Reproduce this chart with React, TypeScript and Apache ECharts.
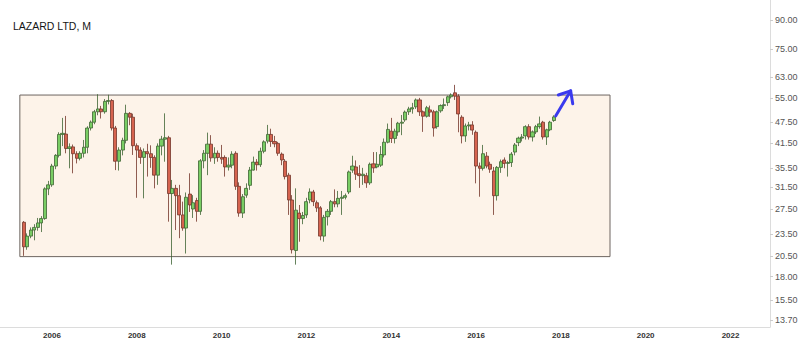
import React, { useEffect, useRef } from "react";
import * as echarts from "echarts";

// [open, close, low, high] per month; 2005 starts in May
const y2005 = [
  [25.3, 21.7, 20.5, 25.5], [21.7, 23.2, 21.3, 23.6], [23.2, 24.1, 22.9, 24.5], [24.1, 24.5, 22.6, 25.0],
  [24.5, 25.2, 24.0, 26.0], [25.2, 25.9, 23.8, 26.3], [25.9, 31.2, 25.7, 31.5], [31.2, 32.0, 30.0, 32.8],
];
const y2006 = [
  [32.0, 36.0, 31.6, 36.5], [36.0, 38.5, 35.3, 38.8], [38.5, 43.9, 38.0, 44.5], [43.9, 44.2, 40.8, 48.7],
  [44.0, 40.2, 39.0, 49.3], [40.2, 40.6, 35.5, 41.5], [40.6, 38.9, 34.4, 41.2], [38.9, 37.8, 36.6, 39.5],
  [37.8, 39.0, 37.3, 39.5], [39.0, 40.5, 38.0, 42.4], [40.5, 45.7, 39.0, 46.2], [45.7, 47.4, 45.0, 47.9],
];
const y2007 = [
  [47.4, 50.6, 46.8, 51.2], [50.6, 51.5, 49.5, 56.5], [51.5, 50.6, 48.5, 52.5], [50.6, 54.0, 50.0, 54.8],
  [54.0, 54.3, 53.0, 56.3], [54.3, 45.7, 45.0, 54.8], [45.7, 37.1, 35.1, 46.3], [37.1, 39.8, 35.0, 40.5],
  [39.8, 42.3, 38.5, 43.0], [42.3, 50.1, 41.5, 52.9], [50.1, 48.9, 46.5, 50.5], [48.9, 40.9, 38.6, 50.0],
];
const y2008 = [
  [40.9, 39.8, 29.5, 41.5], [39.8, 38.0, 36.5, 40.5], [38.0, 39.4, 29.4, 40.2], [39.4, 38.9, 33.7, 41.4],
  [38.9, 38.0, 35.6, 41.0], [38.0, 34.0, 31.3, 38.5], [34.0, 40.8, 32.0, 41.5], [40.8, 42.6, 38.5, 43.5],
  [42.6, 43.0, 37.0, 50.1], [43.0, 30.3, 25.4, 43.5], [30.3, 31.3, 19.4, 33.0], [31.3, 29.9, 24.1, 32.0],
];
const y2009 = [
  [29.9, 26.5, 22.9, 32.0], [26.5, 24.4, 24.0, 28.8], [24.4, 29.6, 20.8, 30.5], [30.2, 28.2, 27.0, 34.4],
  [27.5, 28.6, 26.0, 30.0], [29.0, 27.1, 25.4, 29.5], [27.1, 37.2, 26.5, 37.6], [37.2, 39.0, 35.5, 39.8],
  [39.0, 41.3, 34.0, 44.4], [41.3, 37.9, 37.0, 43.7], [37.9, 39.0, 36.5, 40.5], [39.0, 38.0, 37.0, 39.7],
];
const y2010 = [
  [38.0, 37.6, 36.5, 41.1], [38.0, 35.8, 33.7, 38.5], [35.8, 36.2, 35.0, 38.0], [36.2, 38.8, 35.5, 39.5],
  [39.0, 31.7, 31.0, 39.5], [31.7, 26.8, 26.2, 32.5], [26.8, 29.7, 26.0, 30.2], [30.0, 31.3, 29.5, 32.3],
  [31.9, 35.1, 31.0, 35.8], [35.1, 36.9, 35.0, 38.2], [36.9, 36.3, 35.0, 37.6], [36.3, 39.5, 35.8, 40.4],
];
const y2011 = [
  [39.5, 41.9, 39.0, 42.3], [42.1, 43.9, 41.5, 46.6], [43.9, 42.0, 40.6, 45.5], [42.0, 41.4, 40.5, 43.5],
  [41.5, 39.0, 38.4, 41.9], [38.8, 37.4, 36.2, 39.2], [37.1, 33.7, 33.1, 37.6], [34.0, 29.1, 26.5, 34.5],
  [29.1, 21.3, 20.8, 30.0], [21.2, 27.3, 19.4, 31.3], [26.8, 25.9, 22.4, 28.2], [25.9, 26.4, 25.0, 27.0],
];
const y2012 = [
  [26.5, 28.8, 26.0, 29.5], [29.1, 30.6, 28.5, 31.3], [30.6, 28.8, 28.0, 31.0], [28.6, 27.7, 27.0, 29.0],
  [27.7, 23.2, 22.6, 28.0], [23.2, 26.1, 22.4, 26.5], [26.2, 27.1, 24.8, 27.5], [27.1, 28.8, 26.5, 29.1],
  [28.8, 28.4, 27.8, 31.1], [28.4, 29.4, 27.8, 30.8], [29.4, 29.6, 26.5, 30.8], [29.6, 29.9, 29.2, 30.3],
];
const y2013 = [
  [30.6, 34.7, 30.2, 35.0], [35.1, 36.0, 34.5, 38.4], [35.8, 34.2, 33.0, 37.3], [34.3, 33.9, 31.4, 36.2],
  [33.9, 34.2, 32.0, 35.6], [33.9, 32.4, 31.4, 34.5], [32.4, 36.4, 32.0, 36.8], [36.5, 35.6, 34.5, 39.3],
  [35.8, 36.4, 35.5, 39.3], [36.2, 38.7, 35.8, 40.8], [38.6, 41.8, 38.0, 42.8], [41.8, 45.3, 41.5, 47.0],
];
const y2014 = [
  [44.8, 42.8, 41.6, 48.7], [42.8, 44.8, 41.5, 45.5], [44.6, 47.1, 43.5, 47.5], [47.1, 47.4, 43.7, 49.6],
  [48.1, 50.5, 47.5, 51.0], [50.6, 51.5, 49.6, 52.2], [51.5, 51.9, 50.0, 53.5], [52.2, 54.5, 51.5, 55.0],
  [54.5, 50.6, 49.3, 55.2], [50.6, 49.2, 44.6, 51.0], [49.2, 51.9, 48.8, 52.5], [51.2, 50.5, 49.0, 52.6],
];
const y2015 = [
  [50.6, 45.7, 43.3, 51.2], [46.1, 50.6, 45.5, 51.0], [50.9, 52.6, 50.3, 53.0], [52.6, 52.9, 51.5, 55.0],
  [53.6, 55.6, 52.5, 56.0], [55.6, 56.2, 55.0, 56.8], [57.0, 55.8, 54.5, 59.9], [55.8, 49.9, 44.5, 56.5],
  [48.9, 43.5, 41.5, 49.5], [43.5, 46.3, 41.9, 47.0], [46.3, 46.6, 45.0, 47.5], [46.6, 45.1, 43.8, 47.7],
];
const y2016 = [
  [44.5, 36.0, 32.3, 45.0], [36.0, 35.5, 29.7, 36.8], [35.5, 38.9, 35.0, 41.1], [38.3, 36.0, 35.5, 39.3],
  [36.4, 35.3, 34.5, 37.0], [34.9, 29.9, 26.5, 35.8], [29.9, 35.7, 29.0, 36.0], [35.7, 37.0, 34.5, 37.5],
  [37.4, 36.6, 35.5, 38.0], [36.6, 36.8, 33.7, 37.2], [36.8, 38.8, 35.8, 39.3], [39.3, 41.1, 38.5, 41.6],
];
const y2017 = [
  [41.7, 42.9, 40.8, 43.3], [42.9, 43.2, 42.0, 44.0], [43.5, 46.1, 42.5, 46.5], [46.1, 43.2, 42.5, 46.8],
  [43.2, 44.6, 42.0, 45.0], [44.6, 46.1, 44.0, 46.6], [46.1, 46.9, 45.5, 49.1], [47.4, 43.2, 42.5, 47.8],
  [43.2, 45.2, 41.1, 45.5], [45.2, 47.4, 44.8, 47.8], [47.9, 49.0, 47.5, 49.5],
];

const years = [
  { year: 2005, firstMonth: 4, bars: y2005 },
  { year: 2006, firstMonth: 0, bars: y2006 },
  { year: 2007, firstMonth: 0, bars: y2007 },
  { year: 2008, firstMonth: 0, bars: y2008 },
  { year: 2009, firstMonth: 0, bars: y2009 },
  { year: 2010, firstMonth: 0, bars: y2010 },
  { year: 2011, firstMonth: 0, bars: y2011 },
  { year: 2012, firstMonth: 0, bars: y2012 },
  { year: 2013, firstMonth: 0, bars: y2013 },
  { year: 2014, firstMonth: 0, bars: y2014 },
  { year: 2015, firstMonth: 0, bars: y2015 },
  { year: 2016, firstMonth: 0, bars: y2016 },
  { year: 2017, firstMonth: 0, bars: y2017 },
];

const priceTicks = [13.7, 15.5, 18.0, 20.5, 23.5, 27.5, 31.5, 35.5, 41.5, 47.5, 55.0, 63.0, 75.0, 90.0];
const yearTicks = [2006, 2008, 2010, 2012, 2014, 2016, 2018, 2020, 2022];

const boxStart = "2005-03-30";
const boxEnd = "2019-02-28";
const boxTop = 56.2;
const boxBottom = 20.4;

const arrowShaft: [string, number][] = [["2017-11-17", 49.3], ["2018-03-26", 57.7]];
const arrowHead: [string, number][] = [["2017-12-10", 56.2], ["2018-03-26", 57.7], ["2018-04-13", 53.2]];

const ts = (d: string) => {
  const [y, m, day] = d.split("-").map(Number);
  return Date.UTC(y, m - 1, day);
};

export default function App() {
  const ref = useRef<HTMLDivElement>(null);
  useEffect(() => {
    if (!ref.current) return;
    const chart = echarts.init(ref.current, undefined, { renderer: "svg" });
    const candles: any[] = [];
    years.forEach(({ year, firstMonth, bars }) => {
      bars.forEach((b, i) => {
        candles.push([Date.UTC(year, firstMonth + i, 1), b[0], b[1], b[2], b[3]]);
      });
    });
    const option: any = {
      animation: false,
      backgroundColor: "#ffffff",
      title: {
        text: "LAZARD LTD, M",
        left: 8,
        top: 15,
        textStyle: { fontSize: 10.5, fontWeight: "normal", color: "#151515", fontFamily: "Arial, Liberation Sans, sans-serif" },
      },
      grid: { left: 0, right: 30, top: 0, bottom: 13, containLabel: false, outerBoundsMode: "none" },
      xAxis: {
        type: "value",
        min: Date.UTC(2004, 9, 10),
        max: Date.UTC(2022, 11, 7),
        scale: true,
        axisLine: { show: true, lineStyle: { color: "#dcdcdc" } },
        axisTick: { show: false },
        splitLine: { show: false },
        axisLabel: {
          customValues: yearTicks.map((y) => Date.UTC(y, 0, 1)),
          formatter: (v: number) => String(new Date(v).getUTCFullYear()),
          fontSize: 8,
          fontWeight: "bold",
          color: "#333",
          margin: 4,
          fontFamily: "Arial, Liberation Sans, sans-serif",
        },
      },
      yAxis: {
        type: "log",
        logBase: 10,
        position: "right",
        min: 13.12,
        max: 102,
        axisLine: { show: true, lineStyle: { color: "#dcdcdc" } },
        axisTick: { show: true, length: 3, customValues: priceTicks, lineStyle: { color: "#cccccc" } },
        splitLine: { show: false },
        axisLabel: {
          customValues: priceTicks,
          formatter: (v: number) => v.toFixed(2),
          fontSize: 9,
          color: "#555",
          margin: 5,
          fontFamily: "Arial, Liberation Sans, sans-serif",
        },
      },
      series: [
        {
          type: "candlestick",
          data: candles,
          barWidth: 3.6,
          itemStyle: {
            color: "#79cd64",
            color0: "#d6634f",
            borderColor: "#3d6332",
            borderColor0: "#74352a",
            borderWidth: 0.8,
          },
          markArea: {
            silent: true,
            itemStyle: { color: "#fdf3e9", borderColor: "#6d6560", borderWidth: 1 },
            data: [[{ coord: [ts(boxStart), boxTop] }, { coord: [ts(boxEnd), boxBottom] }]],
          },
        },
        {
          type: "line",
          data: arrowShaft.map(([d, v]) => [ts(d), v]),
          symbol: "none",
          lineStyle: { color: "#3a3aee", width: 3, cap: "round" },
          z: 5,
        },
        {
          type: "line",
          data: arrowHead.map(([d, v]) => [ts(d), v]),
          symbol: "none",
          lineStyle: { color: "#3a3aee", width: 3, cap: "round", join: "round" },
          z: 5,
        },
      ],
    };
    chart.setOption(option);
    return () => chart.dispose();
  }, []);
  return <div ref={ref} style={{ position: "fixed", left: 0, top: 0, width: 800, height: 340 }} />;
}
